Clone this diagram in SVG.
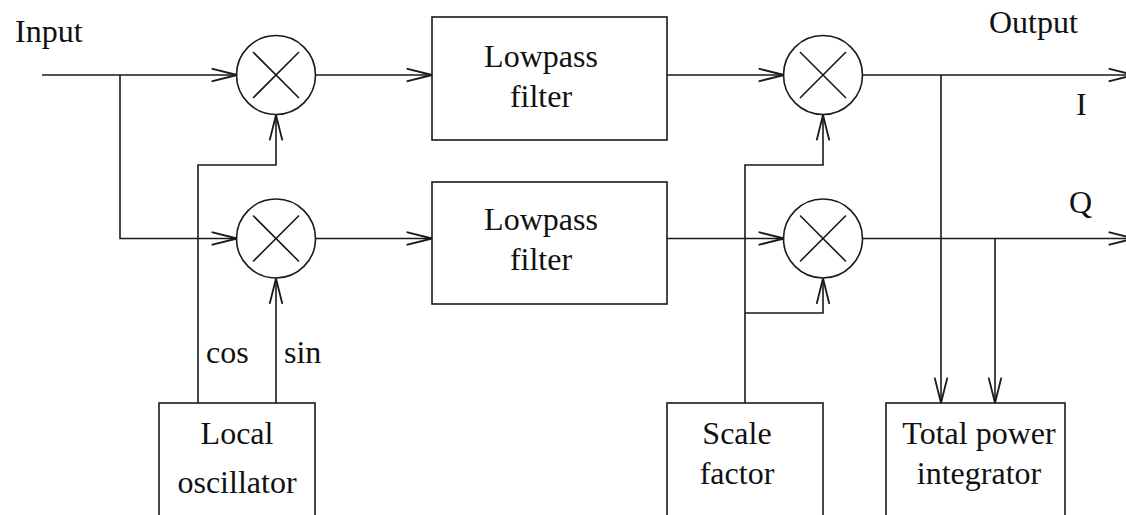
<svg xmlns="http://www.w3.org/2000/svg" width="1126" height="515" viewBox="0 0 1126 515">
<style>
.s{fill:none;stroke:#1a1a1a;stroke-width:1.6}
.t{font-family:"Liberation Serif",serif;font-size:32px;fill:#111}
.c{text-anchor:middle}
</style>
<defs>
<marker id="a" markerUnits="userSpaceOnUse" markerWidth="30" markerHeight="20" refX="0" refY="0" viewBox="-24 -8 26 16" orient="auto" overflow="visible">
<path d="M-22,-5.5 L0,0 L-22,5.5" fill="none" stroke="#1a1a1a" stroke-width="1.6"/>
</marker>
</defs>
<rect width="1126" height="515" fill="#fff"/>
<g id="connectors" class="s">
<path d="M42,75 H237" marker-end="url(#a)"/>
<path d="M120,75 V238.5 H237" marker-end="url(#a)"/>
<path d="M315.5,75 H432" marker-end="url(#a)"/>
<path d="M315.5,238.5 H432" marker-end="url(#a)"/>
<path d="M667,75 H784" marker-end="url(#a)"/>
<path d="M667,238.5 H784" marker-end="url(#a)"/>
<path d="M198,403 V165 H276 V115" marker-end="url(#a)"/>
<path d="M276,403 V278.5" marker-end="url(#a)"/>
<path d="M745,403 V165 H823 V115" marker-end="url(#a)"/>
<path d="M745,313 H823 V278.5" marker-end="url(#a)"/>
<path d="M862.5,75 H1134" marker-end="url(#a)"/>
<path d="M862.5,238.5 H1134" marker-end="url(#a)"/>
<path d="M941,75 V403" marker-end="url(#a)"/>
<path d="M995,238.5 V403" marker-end="url(#a)"/>
</g>
<g id="mixer1" class="s"><circle cx="276" cy="75" r="39.5"/><path d="M253,52 L299,98 M299,52 L253,98"/></g>
<g id="mixer2" class="s"><circle cx="276" cy="238.5" r="39.5"/><path d="M253,215.5 L299,261.5 M299,215.5 L253,261.5"/></g>
<g id="mixer3" class="s"><circle cx="823" cy="75" r="39.5"/><path d="M800,52 L846,98 M846,52 L800,98"/></g>
<g id="mixer4" class="s"><circle cx="823" cy="238.5" r="39.5"/><path d="M800,215.5 L846,261.5 M846,215.5 L800,261.5"/></g>
<g id="lpf1"><rect class="s" x="432" y="17" width="235" height="123"/><text class="t c" x="541" y="67">Lowpass</text><text class="t c" x="541" y="107">filter</text></g>
<g id="lpf2"><rect class="s" x="432" y="182" width="235" height="122"/><text class="t c" x="541" y="230">Lowpass</text><text class="t c" x="541" y="270">filter</text></g>
<g id="lo"><rect class="s" x="159" y="403" width="156" height="130"/><text class="t c" x="237" y="444">Local</text><text class="t c" x="237" y="493">oscillator</text></g>
<g id="scale"><rect class="s" x="667" y="403" width="156" height="130"/><text class="t c" x="737" y="444">Scale</text><text class="t c" x="737" y="484">factor</text></g>
<g id="tpi"><rect class="s" x="886" y="403" width="179" height="130"/><text class="t c" x="979" y="444">Total power</text><text class="t c" x="979" y="484">integrator</text></g>
<g id="labels">
<text class="t" x="15" y="42">Input</text>
<text class="t" x="989" y="33">Output</text>
<text class="t" x="1076" y="115">I</text>
<text class="t" x="1069" y="213">Q</text>
<text class="t" x="206" y="363">cos</text>
<text class="t" x="284" y="363">sin</text>
</g>
</svg>
